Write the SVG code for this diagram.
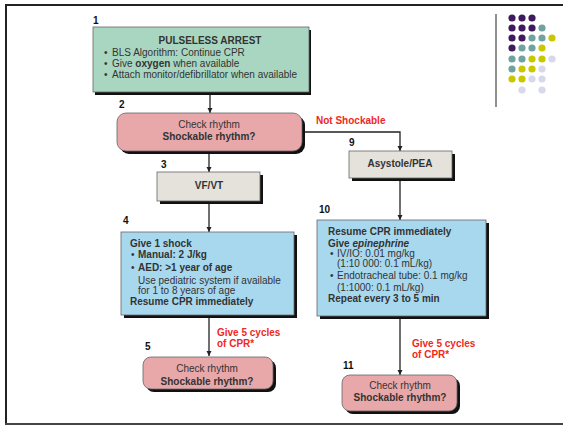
<svg xmlns="http://www.w3.org/2000/svg" width="563" height="426" viewBox="0 0 563 426">
<defs>
<style>
text{font-family:"Liberation Sans",Arial,sans-serif;font-size:10px;fill:#333}
.b{font-weight:bold}
.n{font-weight:bold;fill:#111}
.c{text-anchor:middle}
.red{fill:#f0281e;font-weight:bold}
.sh{fill:#111}
.box{stroke:#666;stroke-width:0.8}
.green{fill:#a9d6c1}.pink{fill:#e8a8aa}.beige{fill:#e5e1db}.blue{fill:#a8d8ee}
.ln{stroke:#222;stroke-width:1.3;fill:none}
.pu{fill:#3f1a5e}.te{fill:#6fa3a0}.ye{fill:#c9c800}.la{fill:#d8d8ec}
</style>
<marker id="ah" viewBox="0 0 10 10" refX="10" refY="5" markerWidth="5" markerHeight="6" orient="auto" markerUnits="userSpaceOnUse">
<path d="M0,0 L10,5 L0,10 z" fill="#222"/>
</marker>
</defs>
<rect width="563" height="426" fill="#fff"/>
<g id="frame" stroke="#222" stroke-width="2">
<line x1="5" y1="5" x2="563" y2="5"/>
<line x1="6" y1="5" x2="6" y2="425"/>
<line x1="5" y1="424" x2="563" y2="424" stroke="#444"/>
<line x1="496" y1="14" x2="496" y2="107" stroke-width="1"/>
</g>
<g id="dots">
<circle class="pu" cx="512" cy="18" r="3.6"/><circle class="pu" cx="522" cy="18" r="3.6"/><circle class="pu" cx="532" cy="18" r="3.6"/>
<circle class="pu" cx="512" cy="28" r="3.6"/><circle class="pu" cx="522" cy="28" r="3.6"/><circle class="pu" cx="532" cy="28" r="3.6"/><circle class="te" cx="542" cy="28" r="3.6"/>
<circle class="pu" cx="512" cy="38" r="3.6"/><circle class="pu" cx="522" cy="38" r="3.6"/><circle class="te" cx="532" cy="38" r="3.6"/><circle class="te" cx="542" cy="38" r="3.6"/><circle class="ye" cx="552" cy="38" r="3.6"/>
<circle class="pu" cx="512" cy="48" r="3.6"/><circle class="te" cx="522" cy="48" r="3.6"/><circle class="te" cx="532" cy="48" r="3.6"/><circle class="ye" cx="542" cy="48" r="3.6"/>
<circle class="te" cx="512" cy="59" r="3.6"/><circle class="te" cx="522" cy="59" r="3.6"/><circle class="ye" cx="532" cy="59" r="3.6"/><circle class="ye" cx="542" cy="59" r="3.6"/><circle class="la" cx="552" cy="59" r="3.6"/>
<circle class="te" cx="512" cy="69" r="3.6"/><circle class="ye" cx="522" cy="69" r="3.6"/><circle class="ye" cx="532" cy="69" r="3.6"/><circle class="la" cx="542" cy="69" r="3.6"/>
<circle class="ye" cx="512" cy="79" r="3.6"/><circle class="ye" cx="522" cy="79" r="3.6"/><circle class="la" cx="532" cy="79" r="3.6"/><circle class="la" cx="542" cy="79" r="3.6"/>
<circle class="la" cx="522" cy="90" r="3.6"/><circle class="la" cx="542" cy="90" r="3.6"/>
</g>
<g id="connectors">
<line class="ln" x1="210" y1="95" x2="210" y2="113" marker-end="url(#ah)"/>
<line class="ln" x1="209" y1="154" x2="209" y2="172" marker-end="url(#ah)"/>
<line class="ln" x1="209" y1="203" x2="209" y2="232" marker-end="url(#ah)"/>
<line class="ln" x1="209" y1="317" x2="209" y2="356" marker-end="url(#ah)"/>
<polyline class="ln" points="302,132 400,132 400,151" marker-end="url(#ah)"/>
<line class="ln" x1="400" y1="181" x2="400" y2="220" marker-end="url(#ah)"/>
<line class="ln" x1="400" y1="319" x2="400" y2="375" marker-end="url(#ah)"/>
<text class="red" x="316" y="124">Not Shockable</text>
<text class="red" x="217" y="335.5">Give 5 cycles</text>
<text class="red" x="217" y="347">of CPR*</text>
<text class="red" x="412" y="346.5">Give 5 cycles</text>
<text class="red" x="412" y="358">of CPR*</text>
</g>
<g id="node1">
<text class="n" x="93" y="24">1</text>
<rect class="sh" x="95" y="30" width="216" height="65"/>
<rect class="box green" x="93" y="27" width="216" height="65"/>
<text class="b c" x="210" y="44">PULSELESS ARREST</text>
<text x="104" y="56">•</text><text x="112" y="56">BLS Algorithm: Continue CPR</text>
<text x="104" y="67">•</text><text x="112" y="67">Give <tspan class="b">oxygen</tspan> when available</text>
<text x="104" y="78">•</text><text x="112" y="78">Attach monitor/defibrillator when available</text>
</g>
<g id="node2">
<text class="n" x="119" y="108">2</text>
<rect class="sh" x="120" y="116" width="185" height="38" rx="9"/>
<rect class="box pink" x="117" y="113" width="185" height="38" rx="9"/>
<text class="c" x="209" y="128">Check rhythm</text>
<text class="b c" x="209" y="140">Shockable rhythm?</text>
</g>
<g id="node3">
<text class="n" x="161" y="168">3</text>
<rect class="sh" x="160" y="175" width="103" height="29"/>
<rect class="box beige" x="157" y="172" width="103" height="29"/>
<text class="b c" x="209" y="189">VF/VT</text>
</g>
<g id="node4">
<text class="n" x="123" y="224">4</text>
<rect class="sh" x="124" y="235" width="173" height="83"/>
<rect class="box blue" x="121" y="232" width="173" height="83"/>
<text class="b" x="130" y="247">Give 1 shock</text>
<text x="131" y="258">•</text><text class="b" x="138" y="258">Manual: 2 J/kg</text>
<text x="131" y="271">•</text><text class="b" x="138" y="271">AED: &gt;1 year of age</text>
<text x="138" y="284">Use pediatric system if available</text>
<text x="138" y="294">for 1 to 8 years of age</text>
<text class="b" x="130" y="305">Resume CPR immediately</text>
</g>
<g id="node5">
<text class="n" x="145" y="350">5</text>
<rect class="sh" x="146" y="360" width="130" height="32" rx="8"/>
<rect class="box pink" x="143" y="357" width="130" height="32" rx="8"/>
<text class="c" x="207" y="372">Check rhythm</text>
<text class="b c" x="207" y="384.5">Shockable rhythm?</text>
</g>
<g id="node9">
<text class="n" x="349" y="146">9</text>
<rect class="sh" x="352" y="154" width="103" height="27"/>
<rect class="box beige" x="349" y="151" width="103" height="27"/>
<text class="b c" x="400" y="167">Asystole/PEA</text>
</g>
<g id="node10">
<text class="n" x="319" y="213">10</text>
<rect class="sh" x="320" y="223" width="169" height="96"/>
<rect class="box blue" x="317" y="220" width="169" height="96"/>
<text class="b" x="328" y="235">Resume CPR immediately</text>
<text class="b" x="328" y="247">Give <tspan font-style="italic">epinephrine</tspan></text>
<text x="330" y="257">•</text><text x="337" y="257">IV/IO: 0.01 mg/kg</text>
<text x="337" y="267">(1:10 000: 0.1 mL/kg)</text>
<text x="330" y="279">•</text><text x="337" y="279">Endotracheal tube: 0.1 mg/kg</text>
<text x="337" y="291">(1:1000: 0.1 mL/kg)</text>
<text class="b" x="328" y="302">Repeat every 3 to 5 min</text>
</g>
<g id="node11">
<text class="n" x="343" y="369">11</text>
<rect class="sh" x="345" y="378" width="115" height="36" rx="8"/>
<rect class="box pink" x="342" y="375" width="115" height="36" rx="8"/>
<text class="c" x="400" y="389">Check rhythm</text>
<text class="b c" x="400" y="401">Shockable rhythm?</text>
</g>
</svg>
